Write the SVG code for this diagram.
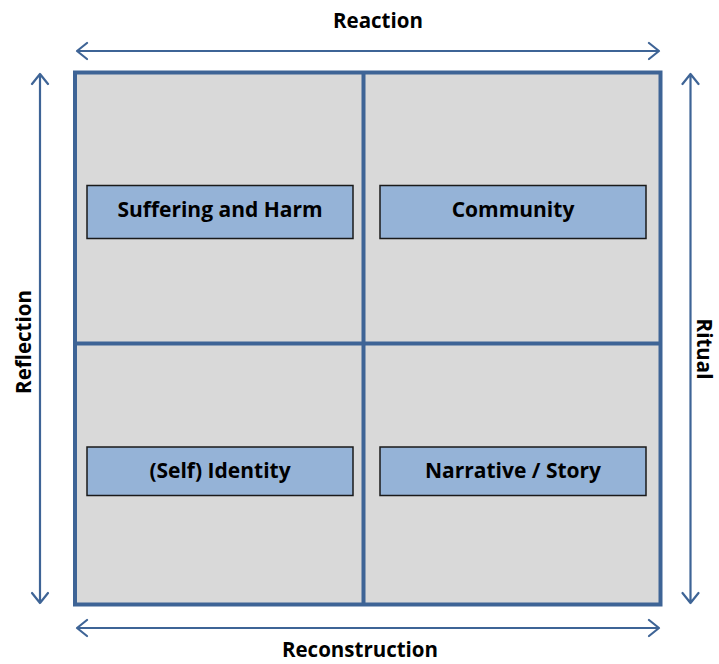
<svg xmlns="http://www.w3.org/2000/svg" width="719" height="664" viewBox="0 0 719 664">
<style>
.frame{fill:none;stroke:#3E6496;stroke-width:4}
.div{stroke:#3E6496;stroke-width:4}
.arr{fill:none;stroke:#3E6496;stroke-width:2.2;stroke-linecap:round;stroke-linejoin:round}
.box{fill:#95B3D7;stroke:#1a1a1a;stroke-width:1.5}
.t{font-family:"Open Sans","Liberation Sans",sans-serif;font-weight:bold;font-size:21px;fill:#000;text-anchor:middle}
.lbl{font-family:"Open Sans","Liberation Sans",sans-serif;font-weight:bold;font-size:20.5px;fill:#000;text-anchor:middle}
</style>
<rect x="0" y="0" width="719" height="664" fill="#fff"/>
<g id="grid">
<rect x="75" y="72.5" width="585.5" height="532" fill="#D9D9D9"/>
<line class="div" x1="363.5" y1="72.5" x2="363.5" y2="604.5"/>
<line class="div" x1="75" y1="343.5" x2="660.5" y2="343.5"/>
<rect class="frame" x="75" y="72.5" width="585.5" height="532"/>
</g>
<g id="connectors">
<path class="arr" d="M77 51 H659 M87 43 L77 51 L87 59 M649 43 L659 51 L649 59"/>
<path class="arr" d="M77 628 H659 M87 620 L77 628 L87 636 M649 620 L659 628 L649 636"/>
<path class="arr" d="M40 74 V603 M32 84 L40 74 L48 84 M32 593 L40 603 L48 593"/>
<path class="arr" d="M690.5 74 V603 M682.5 84 L690.5 74 L698.5 84 M682.5 593 L690.5 603 L698.5 593"/>
</g>
<g id="label-reaction"><text class="lbl" x="378" y="28">Reaction</text></g>
<g id="label-reconstruction"><text class="lbl" x="360" y="657">Reconstruction</text></g>
<g id="label-reflection"><text class="lbl" transform="translate(31,342) rotate(-90)">Reflection</text></g>
<g id="label-ritual"><text class="lbl" transform="translate(697,349) rotate(90)">Ritual</text></g>
<g id="node-suffering">
<rect class="box" x="87" y="185.5" width="266" height="53"/>
<text class="t" x="220" y="217">Suffering and Harm</text>
</g>
<g id="node-community">
<rect class="box" x="380" y="185.5" width="266" height="53"/>
<text class="t" x="513" y="217">Community</text>
</g>
<g id="node-identity">
<rect class="box" x="87" y="447" width="266" height="48.5"/>
<text class="t" x="220" y="478">(Self) Identity</text>
</g>
<g id="node-narrative">
<rect class="box" x="380" y="447" width="266" height="48.5"/>
<text class="t" x="513" y="478">Narrative / Story</text>
</g>
</svg>
